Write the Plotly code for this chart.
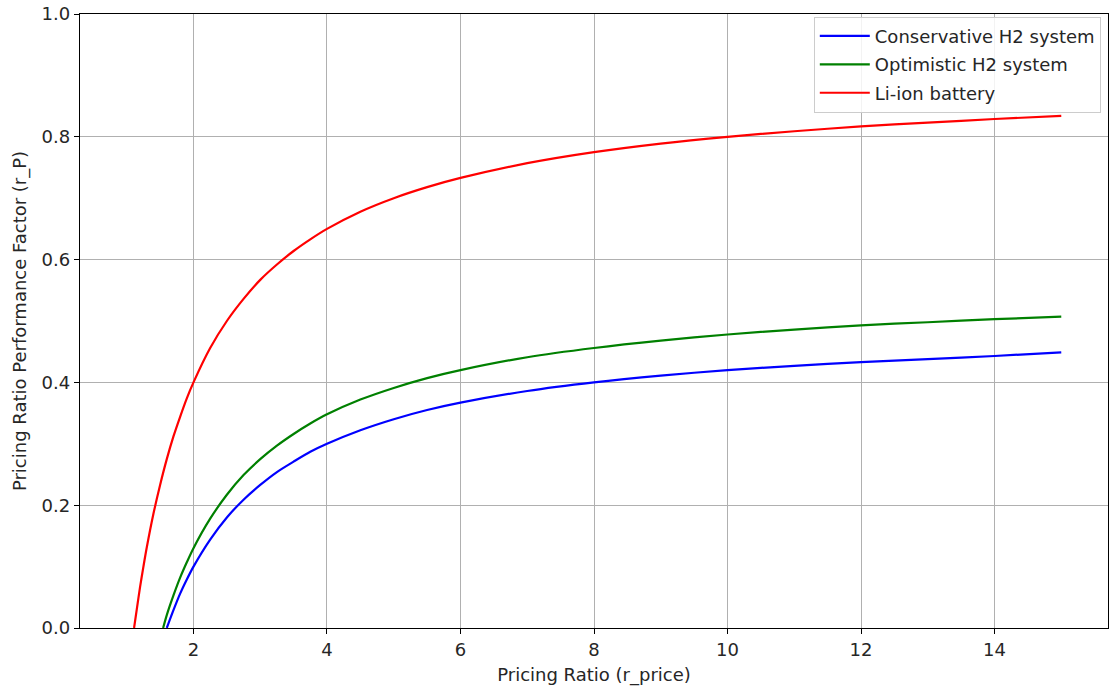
import plotly.graph_objects as go

# Pricing ratio samples and read-off performance factors
x_li = [1.11, 1.15, 1.2, 1.25, 1.3, 1.4, 1.5, 1.6, 1.7, 1.8, 1.9, 2.0, 2.25, 2.5, 2.75, 3.0,
        3.25, 3.5, 3.75, 4.0, 4.5, 5.0, 5.5, 6.0, 7.0, 8.0, 9.0, 10.0, 11.0, 12.0, 13.0,
        14.0, 15.0]
y_li = [0.0, 0.030, 0.067, 0.100, 0.131, 0.186, 0.233, 0.275, 0.312, 0.344, 0.374, 0.400,
        0.456, 0.500, 0.536, 0.567, 0.592, 0.614, 0.633, 0.650, 0.678, 0.700, 0.718, 0.733,
        0.757, 0.775, 0.789, 0.800, 0.809, 0.817, 0.823, 0.829, 0.834]

x_cons = [1.6, 1.7, 1.8, 1.9, 2.0, 2.25, 2.5, 2.75, 3.0, 3.25, 3.5, 3.75, 4.0, 4.5, 5.0,
          5.5, 6.0, 7.0, 8.0, 9.0, 10.0, 11.0, 12.0, 13.0, 14.0, 15.0]
y_cons = [0.0, 0.029, 0.056, 0.079, 0.100, 0.144, 0.180, 0.209, 0.233, 0.254, 0.271, 0.287,
          0.300, 0.322, 0.340, 0.355, 0.367, 0.386, 0.400, 0.411, 0.420, 0.427, 0.433,
          0.438, 0.443, 0.449]

x_opt = [1.545, 1.6, 1.7, 1.8, 1.9, 2.0, 2.25, 2.5, 2.75, 3.0, 3.25, 3.5, 3.75, 4.0, 4.5,
         5.0, 5.5, 6.0, 7.0, 8.0, 9.0, 10.0, 11.0, 12.0, 13.0, 14.0, 15.0]
y_opt = [0.0, 0.021, 0.053, 0.082, 0.107, 0.130, 0.178, 0.217, 0.249, 0.275, 0.297, 0.316,
         0.333, 0.348, 0.372, 0.391, 0.407, 0.420, 0.441, 0.456, 0.468, 0.478, 0.486, 0.493,
         0.498, 0.503, 0.507]

x_ticks = [2, 4, 6, 8, 10, 12, 14]
y_ticks = [0.0, 0.2, 0.4, 0.6, 0.8, 1.0]

font = "DejaVu Sans, Arial, sans-serif"
txt = "#262626"

fig = go.Figure()
series = [
    ("Conservative H2 system", x_cons, y_cons, "#0000ff"),
    ("Optimistic H2 system", x_opt, y_opt, "#008000"),
    ("Li-ion battery", x_li, y_li, "#ff0000"),
]
for name, xs, ys, col in series:
    fig.add_trace(go.Scatter(x=xs, y=ys, mode="lines", name=name, legendgroup=name,
                             line=dict(color=col, width=2.2, shape="spline", smoothing=0.8)))

axis_common = dict(showline=True, linecolor="black", linewidth=1.3, mirror=True,
                   showgrid=True, gridcolor="#b0b0b0", gridwidth=1,
                   ticks="outside", ticklen=5, tickwidth=1.3, tickcolor="black",
                   zeroline=False, tickfont=dict(family=font, size=18, color=txt))

fig.update_xaxes(range=[0.3, 15.7], tickvals=x_ticks, ticktext=[str(v) for v in x_ticks],
                 title=dict(text="Pricing Ratio (r_price)", font=dict(family=font, size=18, color=txt),
                            standoff=9),
                 **axis_common)
fig.update_yaxes(range=[0, 1.0], tickvals=y_ticks, ticktext=[f"{v:.1f}" for v in y_ticks],
                 title=dict(text="Pricing Ratio Performance Factor (r_P)",
                            font=dict(family=font, size=18, color=txt), standoff=10),
                 **axis_common)

fig.update_layout(
    width=1109, height=691,
    margin=dict(l=80, r=1, t=14, b=63),
    paper_bgcolor="white", plot_bgcolor="white",
    font=dict(family=font, size=18, color=txt),
    legend=dict(x=0.993, y=0.9955, xanchor="right", yanchor="top",
                bgcolor="rgba(255,255,255,0.85)", bordercolor="#cccccc", borderwidth=1,
                font=dict(family=font, size=18, color=txt),
                tracegroupgap=2, traceorder="grouped", itemwidth=50),
    showlegend=True,
)

fig.write_html("out.html")
